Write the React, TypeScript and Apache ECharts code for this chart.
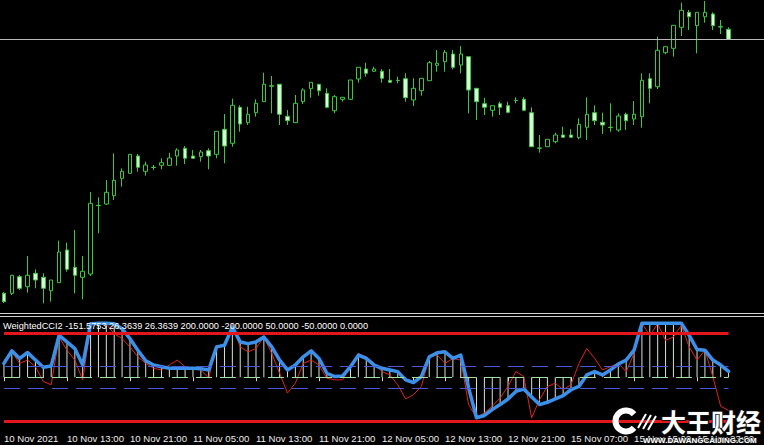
import React, { useEffect, useRef } from "react";
import * as echarts from "echarts";

// ---- price data (H1 bars, 10 Nov 05:00 .. 16 Nov 03:00) ----
const opens = [
  1821.34, 1821.34, 1824.66, 1822.66, 1825.34, 1824.54, 1821.86, 1823.46, 1830.0, 1826.54,
  1824.54, 1825.2, 1838.94, 1839.2, 1840.86, 1844.34, 1845.34, 1848.8, 1845.74, 1846.54,
  1846.94, 1846.94, 1848.8, 1850.34, 1848.8, 1848.66, 1849.86, 1849.14, 1854.14, 1851.34,
  1858.54, 1855.46, 1857.46, 1859.66, 1862.74, 1863.14, 1856.74, 1855.46, 1859.66, 1862.26,
  1863.14, 1861.34, 1857.86, 1860.14, 1860.14, 1864.2, 1866.2, 1865.74, 1865.74, 1863.94,
  1863.94, 1864.26, 1860.0, 1861.86, 1863.86, 1866.94, 1867.66, 1869.2, 1867.0, 1868.66,
  1862.34, 1859.26, 1857.94, 1859.26, 1858.86, 1859.94, 1860.14, 1857.46, 1850.4, 1850.66,
  1851.66, 1853.0, 1853.0, 1852.46, 1854.54, 1857.46, 1855.54, 1854.54, 1854.0, 1857.14,
  1856.2, 1856.66, 1864.26, 1862.66, 1869.46, 1870.34, 1874.54, 1877.54, 1874.86, 1876.66,
  1877.2, 1874.66, 1874.14,
];
const closes = [
  1819.66, 1824.94, 1822.34, 1824.94, 1824.0, 1822.34, 1824.0, 1829.6, 1826.14, 1824.94,
  1825.74, 1839.34, 1838.9, 1841.54, 1843.94, 1845.74, 1849.14, 1846.54, 1847.0, 1846.5,
  1847.46, 1848.4, 1850.0, 1848.34, 1848.34, 1849.6, 1848.8, 1853.74, 1850.8, 1858.94,
  1855.2, 1857.14, 1859.34, 1863.14, 1862.86, 1857.14, 1855.86, 1859.34, 1862.0, 1863.54,
  1861.86, 1858.54, 1860.66, 1860.54, 1864.0, 1866.54, 1865.34, 1866.2, 1864.34, 1863.54,
  1863.9, 1860.46, 1862.34, 1864.34, 1867.46, 1867.34, 1869.54, 1866.54, 1869.2, 1862.0,
  1859.66, 1858.54, 1858.86, 1858.54, 1857.54, 1859.9, 1857.94, 1850.66, 1850.36, 1852.14,
  1853.0, 1852.54, 1852.54, 1855.14, 1857.14, 1855.86, 1855.0, 1854.5, 1856.8, 1855.86,
  1857.14, 1863.94, 1862.34, 1869.94, 1870.66, 1874.94, 1877.94, 1876.66, 1877.54, 1877.54,
  1874.86, 1874.6, 1872.14,
];
const lows = [
  1819.4, 1821.0, 1822.0, 1821.46, 1822.34, 1819.34, 1819.66, 1823.46, 1825.66, 1821.34,
  1820.14, 1824.8, 1833.34, 1839.0, 1840.0, 1842.66, 1845.34, 1845.66, 1844.86, 1846.0,
  1846.14, 1846.8, 1846.86, 1847.2, 1848.26, 1847.66, 1846.14, 1848.34, 1847.34, 1850.66,
  1853.66, 1855.0, 1856.66, 1859.66, 1857.34, 1855.0, 1855.0, 1855.46, 1859.2, 1860.46,
  1860.86, 1858.34, 1857.34, 1859.66, 1860.0, 1863.46, 1864.66, 1865.74, 1863.46, 1863.54,
  1863.34, 1859.66, 1858.8, 1860.86, 1863.86, 1865.66, 1865.66, 1866.14, 1865.34, 1857.34,
  1856.0, 1857.0, 1856.66, 1857.0, 1857.34, 1859.34, 1857.94, 1850.66, 1849.46, 1850.66,
  1851.34, 1852.54, 1852.54, 1852.14, 1852.0, 1855.0, 1853.2, 1853.66, 1853.66, 1854.0,
  1855.0, 1854.46, 1859.34, 1862.2, 1869.14, 1868.66, 1872.8, 1874.0, 1869.34, 1875.46,
  1874.0, 1873.2, 1872.14,
];
const highs = [
  1821.6, 1825.06, 1825.0, 1828.8, 1826.14, 1825.34, 1824.0, 1831.86, 1831.46, 1834.0,
  1828.8, 1841.6, 1840.54, 1844.0, 1849.34, 1846.34, 1849.14, 1849.2, 1847.66, 1847.0,
  1848.34, 1849.46, 1850.34, 1850.8, 1850.0, 1850.0, 1850.34, 1853.74, 1857.2, 1860.26,
  1858.94, 1858.66, 1860.14, 1865.46, 1864.8, 1863.14, 1858.0, 1861.0, 1862.34, 1863.54,
  1863.14, 1862.34, 1861.0, 1860.54, 1864.0, 1866.54, 1867.46, 1866.66, 1866.2, 1866.2,
  1864.66, 1865.34, 1864.34, 1864.34, 1867.8, 1870.0, 1870.0, 1870.0, 1870.8, 1868.66,
  1862.34, 1860.46, 1858.86, 1859.66, 1859.66, 1860.54, 1860.54, 1858.54, 1853.0, 1852.14,
  1853.46, 1854.66, 1854.14, 1856.34, 1860.54, 1858.94, 1857.46, 1859.34, 1857.34, 1857.46,
  1859.8, 1865.34, 1865.34, 1872.66, 1870.66, 1874.94, 1879.46, 1878.0, 1877.54, 1879.8,
  1877.54, 1876.0, 1874.54,
];
const lastPrice = 1872.14;

// ---- WeightedCCI2 indicator ----
const cciRed = [
  78, 115.5, 63, 78, 48, -19.5, -34.5, 183, 123, 78,
  -12, 235.5, 246, 240, 198, 175.5, 138, 93, 63, 40.5,
  33, 55.5, 78, 48, 40.5, 33, -4.5, 145.5, 138, 243,
  138, 115.5, 130.5, 183, 108, 18, -72, -27, 63, 78,
  55.5, -4.5, -12, -12, 48, 108, 93, 63, 25.5, 10.5,
  -34.5, -99, -79.5, -42, 93, 100.5, 63, 85.5, 78, -124.5,
  -184.5, -162, -132, -94.5, -42, 25.5, 3, -184.5, -102, -42,
  -27, -57, -34.5, 63, 130.5, 85.5, 33, 48, 63, 25.5,
  108, 246, 190.5, 243, 168, 183, 235.5, 138, 78, 123,
  3, -132, -151.5753,
];
const wcciBlue = [
  63, 120, 85.5, 112.5, 78, 45, 51, 190.5, 160.5, 130.5,
  55.5, 243, 246, 246, 243, 220.5, 175.5, 123, 75, 55.5,
  48, 40.5, 40.5, 40.5, 40.5, 39, 33, 138, 145.5, 228,
  160.5, 153, 160.5, 183, 138, 78, 33, 55.5, 93, 120,
  85.5, 18, 3, 6, 48, 100.5, 85.5, 55.5, 40.5, 33,
  25.5, -12, -24, 3, 93, 111, 115.5, 85.5, 100.5, -49.5,
  -184.5, -174, -147, -124.5, -99, -64.5, -54, -90, -124.5, -114,
  -99, -84, -57, -42, 10.5, 25.5, 10.5, 33, 60, 78,
  123, 246, 246, 246, 246, 246, 246, 190.5, 126, 123,
  78, 55.5, 26.3639,
];
const levelsRed = [200, -200];
const levelsBlue = [50, -50];
const levelZero = [0];

const tickLabels = [
  "10 Nov 2021", "10 Nov 13:00", "10 Nov 21:00", "11 Nov 05:00", "11 Nov 13:00", "11 Nov 21:00",
  "12 Nov 05:00", "12 Nov 13:00", "12 Nov 21:00", "15 Nov 07:00", "15 Nov 15:00", "15 Nov 23:00",
];
const tickIndex = [0, 8, 16, 24, 32, 40, 48, 56, 64, 72, 80, 88];

const headerText =
  "WeightedCCI2 -151.5753 26.3639 26.3639 200.0000 -200.0000 50.0000 -50.0000 0.0000";

function buildCategories(count: number): string[] {
  const out: string[] = [];
  let day = 10;
  let hour = 5;
  for (let i = 0; i < count; i++) {
    out.push(`${day} Nov ${String(hour).padStart(2, "0")}:00`);
    hour++;
    if (day === 12 && hour === 23) {
      day = 15;
      hour = 1;
    } else if (hour === 24) {
      hour = 0;
      day++;
    }
  }
  return out;
}

export default function App() {
  const ref = useRef<HTMLDivElement>(null);

  useEffect(() => {
    document.body.style.margin = "0";
    document.body.style.background = "#000";
    if (!ref.current) return;
    const chart = echarts.init(ref.current, undefined, { renderer: "svg" });

    const nCat = 97;
    const cats = buildCategories(nCat);
    const lastIdx = opens.length - 1;
    const candleData = opens.map((o, i) => [o, closes[i], lows[i], highs[i]]);

    const levelLine = (v: number, style: any) => [
      { coord: [0, v], lineStyle: style },
      { coord: [lastIdx, v], lineStyle: style },
    ];

    const showTick = (i: number) => tickIndex.indexOf(i) >= 0;
    const labelFont = "Liberation Sans";

    const option: any = {
      backgroundColor: "#000000",
      animation: false,
      grid: [
        { left: -5.5, top: 0, width: nCat * 8, height: 311 },
        { left: -5.5, top: 317, width: nCat * 8, height: 109 },
      ],
      xAxis: [
        { type: "category", gridIndex: 0, data: cats, show: false, boundaryGap: true },
        {
          type: "category",
          gridIndex: 1,
          data: cats,
          boundaryGap: true,
          axisLine: { show: false },
          axisTick: {
            show: true,
            alignWithLabel: true,
            interval: (i: number) => showTick(i),
            length: 4,
            lineStyle: { color: "#d8d8d8", width: 1 },
          },
          axisLabel: {
            show: true,
            interval: (i: number) => showTick(i),
            formatter: (_v: string, i: number) => {
              const p = tickIndex.indexOf(i);
              return p >= 0 ? tickLabels[p] : "";
            },
            color: "#ececec",
            fontSize: 9.6,
            fontFamily: labelFont,
            align: "left",
            margin: 7,
          },
          splitLine: { show: false },
        },
      ],
      yAxis: [
        { type: "value", gridIndex: 0, min: 1817.8, max: 1880, show: false, splitLine: { show: false } },
        { type: "value", gridIndex: 1, min: -222, max: 274, show: false, splitLine: { show: false } },
      ],
      series: [
        {
          type: "candlestick",
          xAxisIndex: 0,
          yAxisIndex: 0,
          data: candleData,
          barWidth: 4,
          itemStyle: {
            color: "#000000",
            color0: "#d8f6d8",
            borderColor: "#3cc83c",
            borderColor0: "#3cc83c",
            borderWidth: 1,
          },
          markLine: {
            silent: true,
            symbol: ["none", "none"],
            label: { show: false },
            lineStyle: { color: "#b8b8b8", width: 1, type: "solid" },
            data: [{ yAxis: lastPrice }],
          },
        },
        {
          type: "bar",
          name: "hist",
          xAxisIndex: 1,
          yAxisIndex: 1,
          data: wcciBlue,
          barWidth: 1,
          itemStyle: { color: "#d4e4d4" },
          z: 1,
          markLine: {
            silent: true,
            symbol: ["none", "none"],
            label: { show: false },
            data: [
              ...levelsBlue.map((v) => levelLine(v, { color: "#4a5ad6", width: 1, type: [16, 8] })),
              ...levelZero.map((v) => levelLine(v, { color: "#9fe29f", width: 1, type: [16, 8] })),
              ...levelsRed.map((v) => levelLine(v, { color: "#e3161b", width: 3, type: "solid" })),
            ],
          },
        },
        {
          type: "line",
          name: "cci",
          xAxisIndex: 1,
          yAxisIndex: 1,
          data: cciRed,
          symbol: "none",
          lineStyle: { color: "#e3231b", width: 1 },
          z: 3,
        },
        {
          type: "line",
          name: "wcci",
          xAxisIndex: 1,
          yAxisIndex: 1,
          data: wcciBlue,
          symbol: "none",
          lineStyle: { color: "#3b91ea", width: 3.5, cap: "round", join: "round" },
          z: 4,
        },
      ],
      graphic: [
        {
          type: "line",
          z: 50,
          shape: { x1: 0, y1: 313.5, x2: 764, y2: 313.5 },
          style: { stroke: "#d0d0d0", lineWidth: 1 },
        },
        {
          type: "line",
          z: 50,
          shape: { x1: 0, y1: 316.5, x2: 764, y2: 316.5 },
          style: { stroke: "#d0d0d0", lineWidth: 1 },
        },
        {
          type: "text",
          z: 60,
          x: 3,
          y: 325.5,
          style: {
            text: headerText,
            fill: "#ffffff",
            fontSize: 9.2,
            fontFamily: labelFont,
            verticalAlign: "middle",
            align: "left",
          },
        },
        // watermark
        {
          type: "arc",
          z: 70,
          shape: { cx: 626, cy: 421, r: 10.5, startAngle: 0.7, endAngle: Math.PI * 2 - 0.7, clockwise: true },
          style: { stroke: "#ffffff", lineWidth: 6, fill: "none" },
        },
        {
          type: "line",
          z: 70,
          shape: { x1: 638, y1: 428, x2: 646, y2: 414 },
          style: { stroke: "#ffffff", lineWidth: 2 },
        },
        {
          type: "line",
          z: 70,
          shape: { x1: 643, y1: 429, x2: 651, y2: 415 },
          style: { stroke: "#ffffff", lineWidth: 2 },
        },
        {
          type: "line",
          z: 70,
          shape: { x1: 648, y1: 430, x2: 656, y2: 416 },
          style: { stroke: "#ffffff", lineWidth: 2 },
        },
        {
          type: "text",
          z: 70,
          x: 661,
          y: 421,
          style: {
            text: "大王财经",
            fill: "#ffffff",
            stroke: "#111111",
            lineWidth: 2,
            fontSize: 25,
            fontWeight: "bold",
            fontFamily: "Noto Sans CJK SC",
            verticalAlign: "middle",
            align: "left",
          },
        },
        {
          type: "text",
          z: 70,
          x: 643,
          y: 440,
          style: {
            text: "WWW.DAWANGCAIJING.COM",
            fill: "#ffffff",
            stroke: "#222222",
            lineWidth: 1,
            fontSize: 8,
            fontWeight: "bold",
            fontFamily: labelFont,
            verticalAlign: "middle",
            align: "left",
          },
        },
      ],
    };

    chart.setOption(option);
    return () => {
      chart.dispose();
    };
  }, []);

  return <div ref={ref} style={{ width: 764, height: 445, background: "#000" }} />;
}
